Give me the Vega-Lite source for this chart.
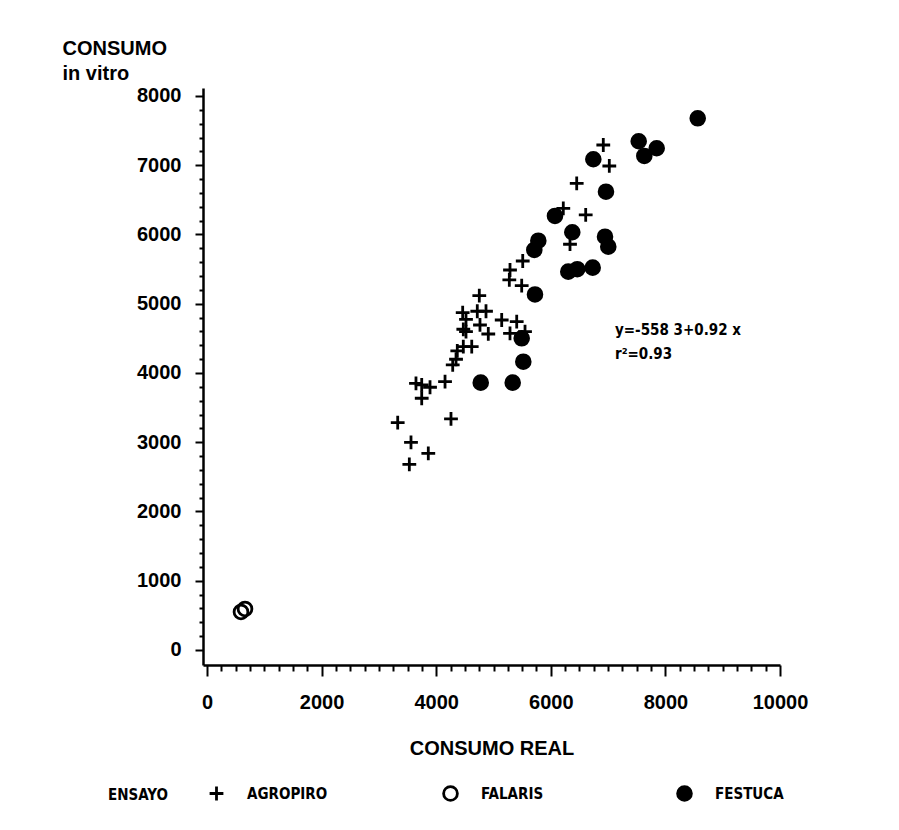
{
  "$schema": "https://vega.github.io/schema/vega-lite/v6.json",
  "width": 577,
  "height": 577,
  "autosize": {"type": "none"},
  "padding": {"left": 203, "top": 88, "right": 119, "bottom": 165},
  "background": "white",
  "config": {"view": {"stroke": null}, "font": "Liberation Sans"},
  "layer": [
    {
      "data": {
        "values": [
          {"ensayo": "AGROPIRO", "real": 3328, "vitro": 3282},
          {"ensayo": "AGROPIRO", "real": 3560, "vitro": 2999},
          {"ensayo": "AGROPIRO", "real": 3531, "vitro": 2681},
          {"ensayo": "AGROPIRO", "real": 3862, "vitro": 2840},
          {"ensayo": "AGROPIRO", "real": 4258, "vitro": 3336},
          {"ensayo": "AGROPIRO", "real": 3647, "vitro": 3851},
          {"ensayo": "AGROPIRO", "real": 3747, "vitro": 3827},
          {"ensayo": "AGROPIRO", "real": 3892, "vitro": 3794},
          {"ensayo": "AGROPIRO", "real": 3747, "vitro": 3635},
          {"ensayo": "AGROPIRO", "real": 4154, "vitro": 3874},
          {"ensayo": "AGROPIRO", "real": 4288, "vitro": 4116},
          {"ensayo": "AGROPIRO", "real": 4346, "vitro": 4198},
          {"ensayo": "AGROPIRO", "real": 4368, "vitro": 4320},
          {"ensayo": "AGROPIRO", "real": 4473, "vitro": 4380},
          {"ensayo": "AGROPIRO", "real": 4620, "vitro": 4380},
          {"ensayo": "AGROPIRO", "real": 4462, "vitro": 4871},
          {"ensayo": "AGROPIRO", "real": 4520, "vitro": 4775},
          {"ensayo": "AGROPIRO", "real": 4473, "vitro": 4631},
          {"ensayo": "AGROPIRO", "real": 4520, "vitro": 4596},
          {"ensayo": "AGROPIRO", "real": 4717, "vitro": 4891},
          {"ensayo": "AGROPIRO", "real": 4869, "vitro": 4891},
          {"ensayo": "AGROPIRO", "real": 4752, "vitro": 5116},
          {"ensayo": "AGROPIRO", "real": 4764, "vitro": 4693},
          {"ensayo": "AGROPIRO", "real": 4909, "vitro": 4563},
          {"ensayo": "AGROPIRO", "real": 5143, "vitro": 4765},
          {"ensayo": "AGROPIRO", "real": 5405, "vitro": 4741},
          {"ensayo": "AGROPIRO", "real": 5288, "vitro": 4573},
          {"ensayo": "AGROPIRO", "real": 5550, "vitro": 4596},
          {"ensayo": "AGROPIRO", "real": 5276, "vitro": 5343},
          {"ensayo": "AGROPIRO", "real": 5288, "vitro": 5487},
          {"ensayo": "AGROPIRO", "real": 5492, "vitro": 5261},
          {"ensayo": "AGROPIRO", "real": 5510, "vitro": 5617},
          {"ensayo": "AGROPIRO", "real": 6218, "vitro": 6378},
          {"ensayo": "AGROPIRO", "real": 6335, "vitro": 5859},
          {"ensayo": "AGROPIRO", "real": 6452, "vitro": 6739},
          {"ensayo": "AGROPIRO", "real": 6609, "vitro": 6282},
          {"ensayo": "AGROPIRO", "real": 6916, "vitro": 7292},
          {"ensayo": "AGROPIRO", "real": 7021, "vitro": 6989},
          {"ensayo": "FALARIS", "real": 593, "vitro": 549},
          {"ensayo": "FALARIS", "real": 663, "vitro": 592},
          {"ensayo": "FESTUCA", "real": 4777, "vitro": 3860},
          {"ensayo": "FESTUCA", "real": 5335, "vitro": 3860},
          {"ensayo": "FESTUCA", "real": 5520, "vitro": 4163},
          {"ensayo": "FESTUCA", "real": 5492, "vitro": 4501},
          {"ensayo": "FESTUCA", "real": 5724, "vitro": 5134},
          {"ensayo": "FESTUCA", "real": 5712, "vitro": 5776},
          {"ensayo": "FESTUCA", "real": 5782, "vitro": 5910},
          {"ensayo": "FESTUCA", "real": 6073, "vitro": 6267},
          {"ensayo": "FESTUCA", "real": 6375, "vitro": 6032},
          {"ensayo": "FESTUCA", "real": 6305, "vitro": 5463},
          {"ensayo": "FESTUCA", "real": 6462, "vitro": 5498},
          {"ensayo": "FESTUCA", "real": 6731, "vitro": 5521},
          {"ensayo": "FESTUCA", "real": 6946, "vitro": 5968},
          {"ensayo": "FESTUCA", "real": 7003, "vitro": 5824},
          {"ensayo": "FESTUCA", "real": 6963, "vitro": 6618},
          {"ensayo": "FESTUCA", "real": 6742, "vitro": 7086},
          {"ensayo": "FESTUCA", "real": 7534, "vitro": 7346},
          {"ensayo": "FESTUCA", "real": 7632, "vitro": 7134},
          {"ensayo": "FESTUCA", "real": 7848, "vitro": 7245},
          {"ensayo": "FESTUCA", "real": 8564, "vitro": 7678}
        ]
      },
      "mark": {"type": "point", "size": 190, "strokeWidth": 2.8, "opacity": 1, "filled": false},
      "encoding": {
        "x": {
          "field": "real", "type": "quantitative",
          "scale": {"domain": [-70, 10000], "nice": false, "zero": false},
          "axis": {
            "title": "CONSUMO REAL",
            "titleFont": "Liberation Sans", "titleFontSize": 20, "titleFontWeight": "bold", "titleColor": "black", "titlePadding": 26,
            "tickCount": 500,
            "values": [0,250,500,750,1000,1250,1500,1750,2000,2250,2500,2750,3000,3250,3500,3750,4000,4250,4500,4750,5000,5250,5500,5750,6000,6250,6500,6750,7000,7250,7500,7750,8000,8250,8500,8750,9000,9250,9500,9750,10000],
            "labelExpr": "datum.value % 2000 === 0 ? datum.value : ''",
            "labelOverlap": false, "labelFlush": false, "labelBound": false,
            "labelFont": "Liberation Sans", "labelFontSize": 20, "labelFontWeight": "bold", "labelColor": "black", "labelPadding": 16,
            "tickSize": {"condition": {"test": "datum.value % 2000 === 0", "value": 11}, "value": 6},
            "tickWidth": 2, "tickColor": "black",
            "domainColor": "black", "domainWidth": 2.5,
            "grid": false
          }
        },
        "y": {
          "field": "vitro", "type": "quantitative",
          "scale": {"domain": [-217, 8115], "nice": false, "zero": false},
          "axis": {
            "title": ["CONSUMO", "in vitro"],
            "titleAngle": 0, "titleAlign": "left", "titleBaseline": "alphabetic", "titleAnchor": "end",
            "titleX": -141, "titleY": -34, "titleLineHeight": 25,
            "titleFont": "Liberation Sans", "titleFontSize": 20, "titleFontWeight": "bold", "titleColor": "black",
            "tickCount": 500,
            "values": [0,200,400,600,800,1000,1200,1400,1600,1800,2000,2200,2400,2600,2800,3000,3200,3400,3600,3800,4000,4200,4400,4600,4800,5000,5200,5400,5600,5800,6000,6200,6400,6600,6800,7000,7200,7400,7600,7800,8000],
            "labelExpr": "datum.value % 1000 === 0 ? datum.value : ''",
            "labelOverlap": false, "labelFlush": false, "labelBound": false,
            "labelFont": "Liberation Sans", "labelFontSize": 20, "labelFontWeight": "bold", "labelColor": "black", "labelPadding": 14,
            "tickSize": {"condition": {"test": "datum.value % 1000 === 0", "value": 8}, "value": 4},
            "tickWidth": 2, "tickColor": "black",
            "domainColor": "black", "domainWidth": 2.5,
            "grid": false
          }
        },
        "shape": {
          "field": "ensayo", "type": "nominal",
          "scale": {"domain": ["AGROPIRO", "FALARIS", "FESTUCA"], "range": ["M-1,0L1,0M0,-1L0,1", "circle", "circle"]},
          "legend": {
            "title": "ENSAYO", "orient": "none", "legendX": -95, "legendY": 697,
            "direction": "horizontal", "columns": 3, "gridAlign": "all", "columnPadding": 110,
            "titleOrient": "left", "titlePadding": 40, "titleBaseline": "middle",
            "titleFont": "DejaVu Sans Condensed", "titleFontSize": 15, "titleFontWeight": "bold", "titleColor": "black",
            "labelFont": "DejaVu Sans Condensed", "labelFontSize": 15, "labelFontWeight": "bold", "labelColor": "black", "labelOffset": 22,
            "symbolSize": 190, "symbolStrokeWidth": 2.8
          }
        },
        "fill": {
          "field": "ensayo", "type": "nominal",
          "scale": {"domain": ["AGROPIRO", "FALARIS", "FESTUCA"], "range": ["transparent", "transparent", "black"]},
          "legend": {
            "title": "ENSAYO", "orient": "none", "legendX": -95, "legendY": 697,
            "direction": "horizontal", "columns": 3, "gridAlign": "all", "columnPadding": 110,
            "titleOrient": "left", "titlePadding": 40, "titleBaseline": "middle",
            "titleFont": "DejaVu Sans Condensed", "titleFontSize": 15, "titleFontWeight": "bold", "titleColor": "black",
            "labelFont": "DejaVu Sans Condensed", "labelFontSize": 15, "labelFontWeight": "bold", "labelColor": "black", "labelOffset": 22,
            "symbolSize": 190, "symbolStrokeWidth": 2.8
          }
        },
        "stroke": {
          "field": "ensayo", "type": "nominal",
          "scale": {"domain": ["AGROPIRO", "FALARIS", "FESTUCA"], "range": ["black", "black", "black"]},
          "legend": {
            "title": "ENSAYO", "orient": "none", "legendX": -95, "legendY": 697,
            "direction": "horizontal", "columns": 3, "gridAlign": "all", "columnPadding": 110,
            "titleOrient": "left", "titlePadding": 40, "titleBaseline": "middle",
            "titleFont": "DejaVu Sans Condensed", "titleFontSize": 15, "titleFontWeight": "bold", "titleColor": "black",
            "labelFont": "DejaVu Sans Condensed", "labelFontSize": 15, "labelFontWeight": "bold", "labelColor": "black", "labelOffset": 22,
            "symbolSize": 190, "symbolStrokeWidth": 2.8
          }
        }
      }
    },
    {
      "data": {"values": [{"nota": "regresion"}]},
      "mark": {
        "type": "text", "text": ["y=-558 3+0.92 x", "r²=0.93"],
        "align": "left", "baseline": "alphabetic", "lineHeight": 24,
        "font": "DejaVu Sans Condensed", "fontSize": 15, "fontWeight": "bold", "color": "black"
      },
      "encoding": {
        "x": {"datum": 7120, "type": "quantitative"},
        "y": {"datum": 4550, "type": "quantitative"}
      }
    }
  ]
}
